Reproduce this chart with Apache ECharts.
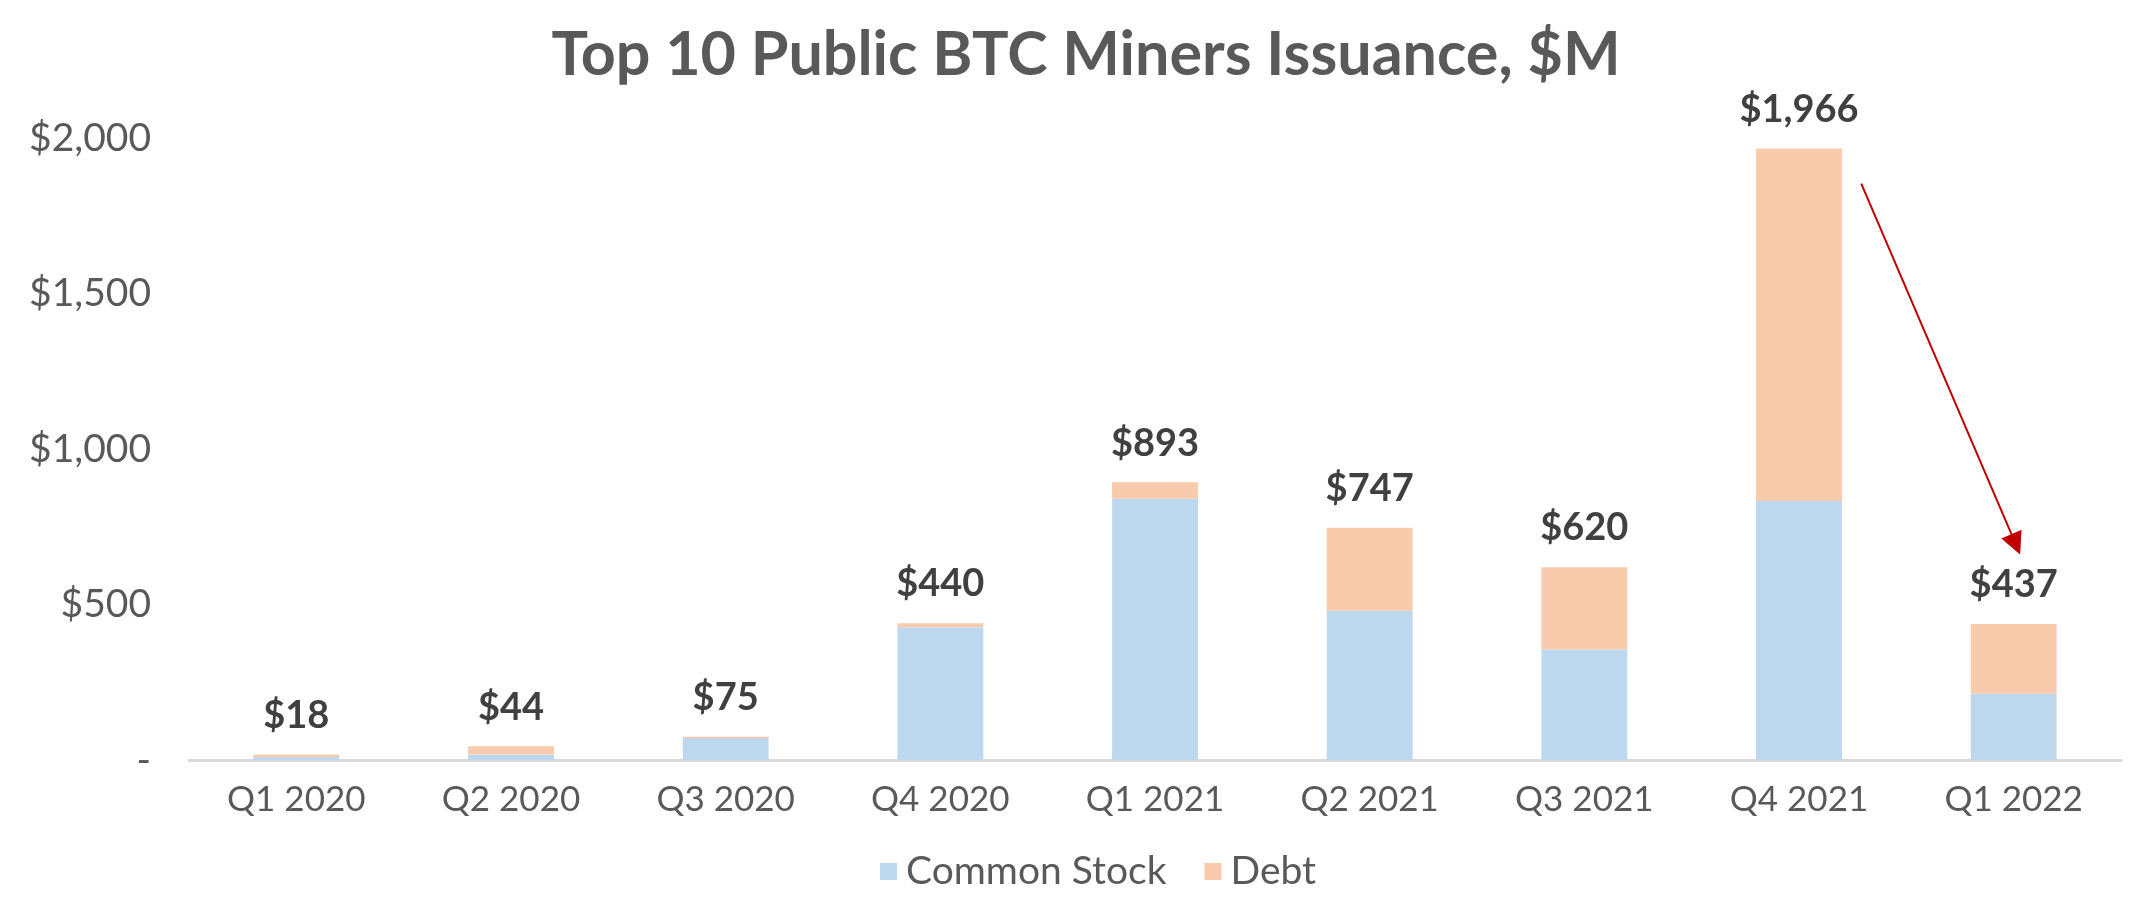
<!DOCTYPE html>
<html>
<head>
<meta charset="utf-8">
<script src="https://cdn.jsdelivr.net/npm/echarts@6/dist/echarts.min.js"></script>
<style>
html,body{margin:0;padding:0;background:#fff;}
#main{width:2140px;height:903px;}
</style>
</head>
<body>
<div id="main"></div>
<script>
var categories = ['Q1 2020','Q2 2020','Q3 2020','Q4 2020','Q1 2021','Q2 2021','Q3 2021','Q4 2021','Q1 2022'];
var commonStock = [10, 18, 71, 427, 840, 480, 355, 833, 213];
var debt        = [8, 26, 4, 13, 53, 267, 265, 1133, 224];
var totals      = [18, 44, 75, 440, 893, 747, 620, 1966, 437];
var yTicks      = [0, 500, 1000, 1500, 2000];
// annotation arrow in data coordinates [category position, value]
var arrowFrom = [7.29, 1853];
var arrowTo   = [8.03, 661];

var FONT = 'Lato';
var chart = echarts.init(document.getElementById('main'), null, {renderer:'canvas'});

function fmtMoney(v){
  if (v === 0) return '-';
  return '$' + v.toString().replace(/\B(?=(\d{3})+(?!\d))/g, ',');
}

var option = {
  backgroundColor: '#ffffff',
  animation: false,
  title: {
    text: 'Top 10 Public BTC Miners Issuance, $M',
    left: 1081,
    textAlign: 'center',
    top: 20,
    textStyle: {fontFamily: FONT, fontWeight: 'bold', fontSize: 61, color: '#595959'}
  },
  legend: {
    bottom: 7,
    left: 875,
    itemWidth: 17, itemHeight: 17, itemGap: 38,
    icon: 'rect',
    textStyle: {fontFamily: FONT, fontSize: 39, color: '#595959', padding:[0,0,0,4]},
    data: ['Common Stock', 'Debt']
  },
  grid: {left: 189, right: 19, top: 138, bottom: 143, containLabel: false},
  xAxis: {
    type: 'category',
    data: categories,
    axisLine: {lineStyle: {color: '#D9D9D9', width: 3}},
    axisTick: {show: false},
    axisLabel: {fontFamily: FONT, fontSize: 35, color: '#595959', margin: 22}
  },
  yAxis: {
    type: 'value',
    min: yTicks[0], max: yTicks[yTicks.length-1], interval: 500,
    splitLine: {show: false},
    axisLine: {show: false},
    axisTick: {show: false},
    axisLabel: {fontFamily: FONT, fontSize: 39, color: '#595959', margin: 38,
      formatter: function(v){ return fmtMoney(v); }}
  },
  series: [
    {
      name: 'Common Stock', type: 'bar', stack: 'total', barWidth: '40%',
      itemStyle: {color: '#BDD7EE'},
      data: commonStock
    },
    {
      name: 'Debt', type: 'bar', stack: 'total',
      itemStyle: {color: '#F8CBAD'},
      label: {
        show: true, position: 'top', distance: 20,
        fontFamily: FONT, fontWeight: 'bold', fontSize: 38, color: '#404040',
        formatter: function(p){ return fmtMoney(totals[p.dataIndex]); }
      },
      data: debt
    }
  ]
};
chart.setOption(option);

function toPixel(pt){
  var i0 = Math.floor(pt[0]), f = pt[0] - i0;
  var a = chart.convertToPixel({xAxisIndex:0, yAxisIndex:0}, [i0, pt[1]]);
  var step;
  if (i0 + 1 <= 8) {
    var b = chart.convertToPixel({xAxisIndex:0, yAxisIndex:0}, [i0 + 1, pt[1]]);
    step = b[0] - a[0];
  } else {
    var c = chart.convertToPixel({xAxisIndex:0, yAxisIndex:0}, [i0 - 1, pt[1]]);
    step = a[0] - c[0];
  }
  return [a[0] + f * step, a[1]];
}
var p1 = toPixel(arrowFrom), p2 = toPixel(arrowTo);
var dx = p2[0]-p1[0], dy = p2[1]-p1[1], len = Math.sqrt(dx*dx+dy*dy);
var ux = dx/len, uy = dy/len, headL = 22, headW = 11;
var bx = p2[0]-ux*headL, by = p2[1]-uy*headL;
chart.setOption({
  graphic: [
    {type:'line', shape:{x1:p1[0], y1:p1[1], x2:bx, y2:by}, style:{stroke:'#C00000', lineWidth:2}, z:100},
    {type:'polygon', shape:{points:[[p2[0],p2[1]],[bx - uy*headW, by + ux*headW],[bx + uy*headW, by - ux*headW]]}, style:{fill:'#C00000'}, z:100}
  ]
});
</script>
</body>
</html>
